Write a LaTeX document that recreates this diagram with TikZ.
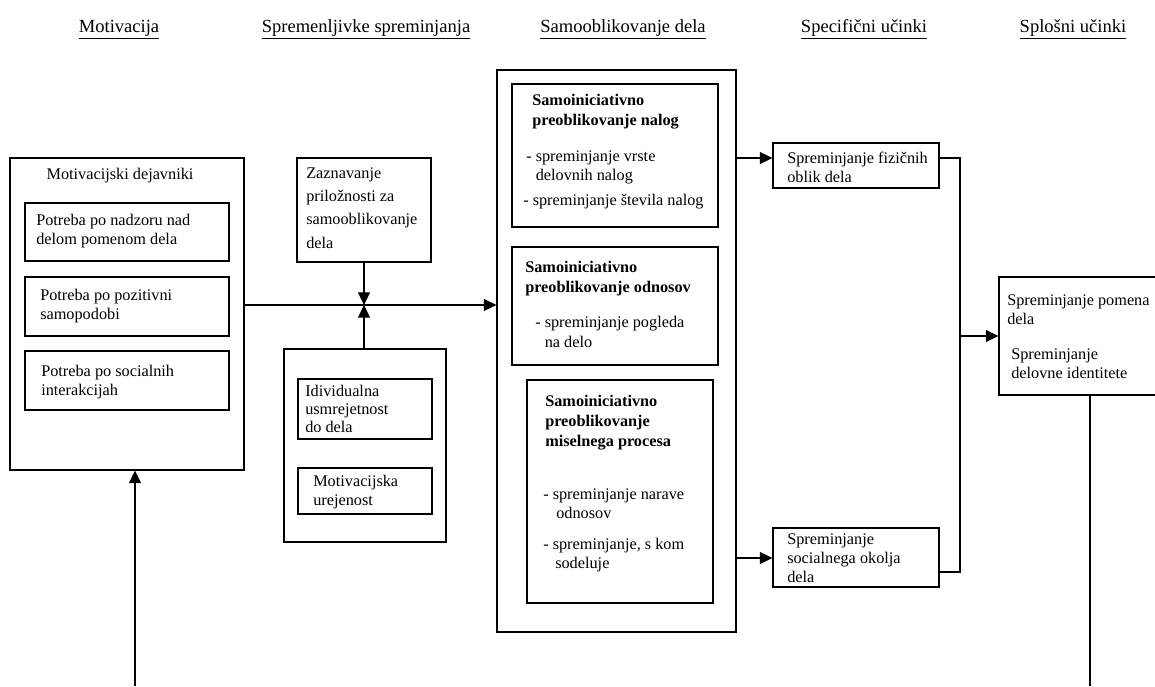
\documentclass[tikz,border=0pt]{standalone}
\usepackage{fontspec}
\setmainfont{Liberation Serif}
\usetikzlibrary{arrows.meta,fit}
\begin{document}
\begin{tikzpicture}[x=0.75pt,y=-0.75pt,
  box/.style={draw,line width=0.8pt,inner sep=0pt},
  txt/.style={inner sep=0pt,align=left,anchor=west,font=\fontsize{12.2pt}{14.2pt}\selectfont},
  bold/.style={txt,font=\fontsize{12.2pt}{15pt}\selectfont\bfseries},
  head/.style={inner sep=0pt,anchor=base,font=\fontsize{13.9pt}{16pt}\selectfont},
  conn/.style={line width=0.8pt},
  arr/.style={conn,-{Triangle[length=9.5pt,width=9pt]}}]
\useasboundingbox (0,0) rectangle (1155,686);

% headers
\node[head] (h1) at (119,32) {\underline{Motivacija}};
\node[head] (h2) at (366,32) {\underline{Spremenljivke spreminjanja}};
\node[head] (h3) at (623,32) {\underline{Samooblikovanje dela}};
\node[head] (h4) at (864,32) {\underline{Specifični učinki}};
\node[head] (h5) at (1073,32) {\underline{Splošni učinki}};

% motivation
\node[box,fit={(10,158)(244,470)}] (mot) {};
\node[txt,anchor=center] (motl) at (120,176) {Motivacijski dejavniki};
\node[box,fit={(25,203)(229,261)}] (p1) {};
\node[txt] (p1t) at (36,231) {Potreba po nadzoru nad\\delom pomenom dela};
\node[box,fit={(25,277)(229,336)}] (p2) {};
\node[txt] (p2t) at (40,306) {Potreba po pozitivni\\samopodobi};
\node[box,fit={(25,351)(229,410)}] (p3) {};
\node[txt] (p3t) at (41,382) {Potreba po socialnih\\interakcijah};

% variables
\node[box,fit={(297,158)(431,262)}] (zaz) {};
\node[txt,font=\fontsize{12.2pt}{17.5pt}\selectfont] (zazt) at (306,208) {Zaznavanje\\priložnosti za\\samooblikovanje\\dela};
\node[box,fit={(284,349)(446,542)}] (ind) {};
\node[box,fit={(298,379)(432,439)}] (i1) {};
\node[txt,font=\fontsize{12.2pt}{13.6pt}\selectfont] (i1t) at (305,409) {Idividualna\\usmrejetnost\\do dela};
\node[box,fit={(298,468)(432,514)}] (i2) {};
\node[txt] (i2t) at (313,492) {Motivacijska\\urejenost};
\coordinate (j) at (364,305);

% job crafting
\node[box,fit={(497,70)(736,632)}] (sam) {};
\node[box,fit={(512,84)(718,227)}] (a) {};
\node[bold] (at) at (532,112) {Samoiniciativno\\preoblikovanje nalog};
\node[txt] (a1) at (526,167) {- spreminjanje vrste\\\phantom{- }delovnih nalog};
\node[txt] (a2) at (523,202) {- spreminjanje števila nalog};
\node[box,fit={(512,247)(718,365)}] (b) {};
\node[bold] (bt) at (525,279) {Samoiniciativno\\preoblikovanje odnosov};
\node[txt,font=\fontsize{12.2pt}{15pt}\selectfont] (b1) at (535,332) {- spreminjanje pogleda\\\phantom{- }na delo};
\node[box,fit={(527,380)(713,603)}] (c) {};
\node[bold] (ct) at (545,423) {Samoiniciativno\\preoblikovanje\\miselnega procesa};
\node[txt] (c1) at (543,504) {- spreminjanje narave\\\hspace*{9.75pt}odnosov};
\node[txt] (c2) at (543,555) {- spreminjanje, s kom\\\hspace*{9pt}sodeluje};

% specific effects
\node[box,fit={(773,143)(939,188)}] (fiz) {};
\node[txt] (fizt) at (787,167) {Spreminjanje fizičnih\\oblik dela};
\node[box,fit={(773,528)(939,587)}] (soc) {};
\node[txt] (soct) at (787,558) {Spreminjanje\\socialnega okolja\\dela};

% general effects
\node[box,fit={(999,277)(1175,395)}] (gen) {};
\node[txt] (g1) at (1007,310) {Spreminjanje pomena\\dela};
\node[txt] (g2) at (1011,364) {Spreminjanje\\delovne identitete};

% connectors
\draw[arr] (mot.east |- j) -- (sam.west |- j);
\draw[arr] (zaz.south -| j) -- (j);
\draw[arr] (ind.north -| j) -- (j);
\coordinate (yf) at (0,158);
\coordinate (ys) at (0,558);
\coordinate (yb) at (0,572);
\coordinate (bx) at (960,336);
\draw[arr] (sam.east |- yf) -- (fiz.west |- yf);
\draw[arr] (sam.east |- ys) -- (soc.west |- ys);
\draw[conn] (fiz.east |- yf) -| (bx);
\draw[conn] (soc.east |- yb) -| (bx);
\draw[arr] (bx) -- (gen.west |- bx);
\coordinate (rb) at (1090,686);
\draw[conn] (gen.south -| rb) -- (rb);
\coordinate (lb) at (135,686);
\draw[arr] (lb) -- (mot.south -| lb);
\end{tikzpicture}
\end{document}
